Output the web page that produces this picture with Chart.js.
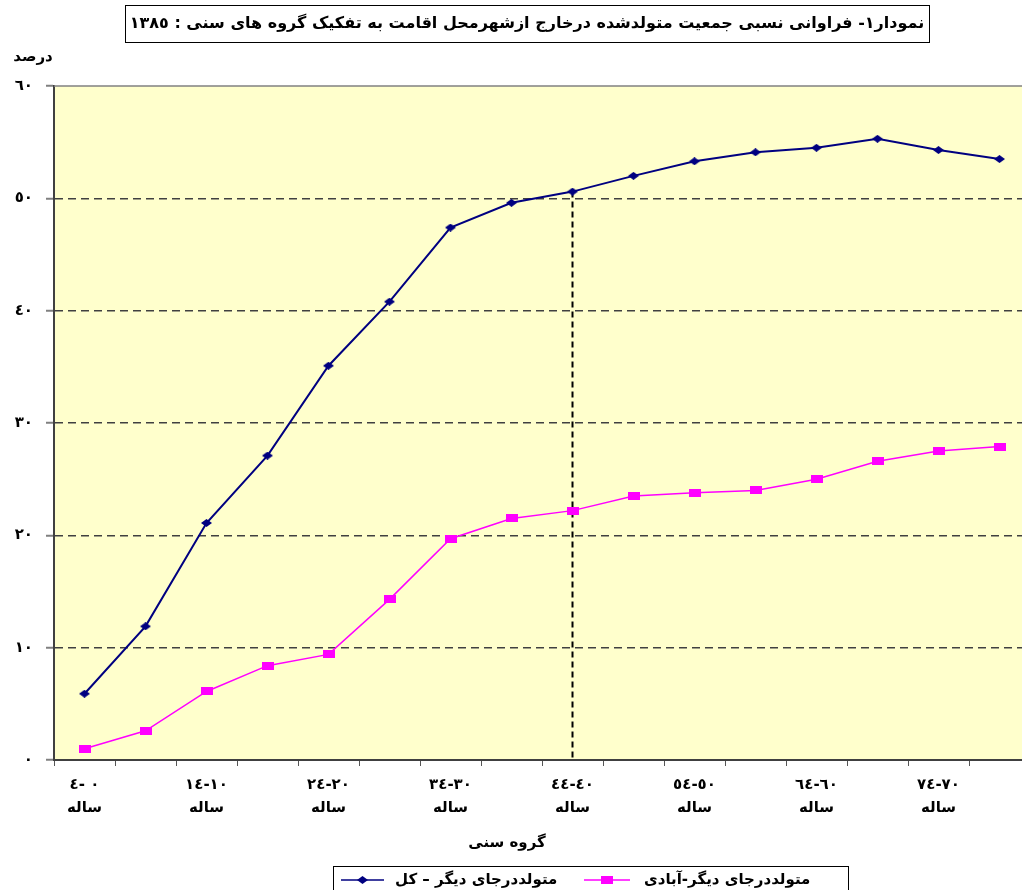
<!DOCTYPE html>
<html lang="fa">
<head>
<meta charset="utf-8">
<title>نمودار ١</title>
<script src="https://cdn.jsdelivr.net/npm/chart.js@4.4.1/dist/chart.umd.min.js"></script>
<style>
  html, body { margin: 0; padding: 0; background: #fff; overflow: hidden; }
  #wrap { width: 1040px; height: 890px; }
</style>
</head>
<body>
<div id="wrap"><canvas id="myChart" width="1040" height="890"></canvas></div>
<script>
// گروه های سنی (ترتیب منطقی، نمایش راست به چپ)
const ageGroups = ["٠ -٤", "٥-٩", "١٠-١٤", "١٥-١٩", "٢٠-٢٤", "٢٥-٢٩", "٣٠-٣٤", "٣٥-٣٩",
  "٤٠-٤٤", "٤٥-٤٩", "٥٠-٥٤", "٥٥-٥٩", "٦٠-٦٤", "٦٥-٦٩", "٧٠-٧٤", "٧٥+"];
const ageSuffix = "ساله";

// درصد متولدین جای دیگر
const totalValues = [5.9, 11.9, 21.1, 27.1, 35.1, 40.8, 47.4, 49.6, 50.6, 52.0, 53.3, 54.1, 54.5, 55.3, 54.3, 53.5];
const urbanValues = [1.0, 2.6, 6.1, 8.4, 9.4, 14.3, 19.7, 21.5, 22.2, 23.5, 23.8, 24.0, 25.0, 26.6, 27.5, 27.9];

const yTickLabels = ["٠", "١٠", "٢٠", "٣٠", "٤٠", "٥٠", "٦٠"];
const seriesNames = ["متولددرجای دیگر – کل", "متولددرجای دیگر-آبادی"];
const chartTitle = "نمودار١- فراوانی نسبی جمعیت متولدشده درخارج ازشهرمحل اقامت به تفکیک گروه های سنی : ١٣٨٥";
const yAxisTitle = "درصد";
const xAxisTitle = "گروه سنی";
const markerIndex = 8; // خط عمودی روی ٤٠-٤٤

const FONT = '"DejaVu Sans", sans-serif';
const NAVY = "#000080";
const MAGENTA = "#FF00FF";

// نشانگرها (لوزی پهن و مستطیل)
function makeMarker(w, h, color, diamond) {
  const c = document.createElement("canvas");
  c.width = w;
  c.height = h;
  const g = c.getContext("2d");
  g.fillStyle = color;
  if (diamond) {
    g.beginPath();
    g.moveTo(w / 2, 0);
    g.lineTo(w, h / 2);
    g.lineTo(w / 2, h);
    g.lineTo(0, h / 2);
    g.closePath();
    g.fill();
  } else {
    g.fillRect(0, 0, w, h);
  }
  return c;
}
const diamondImg = makeMarker(11, 8, NAVY, true);
const squareImg = makeMarker(12, 8, MAGENTA, false);

const decorPlugin = {
  id: "decor",
  beforeDraw(chart) {
    const { ctx, chartArea: a } = chart;
    ctx.save();
    ctx.fillStyle = "#FFFFCC";
    ctx.fillRect(a.left, a.top, a.right - a.left, a.bottom - a.top);
    ctx.restore();
  },
  beforeDatasetsDraw(chart) {
    const { ctx, chartArea: a, scales } = chart;
    ctx.save();
    // خط بالای ناحیه نمودار
    ctx.strokeStyle = "#808080";
    ctx.lineWidth = 1.5;
    ctx.beginPath();
    ctx.moveTo(a.left, a.top);
    ctx.lineTo(a.right, a.top);
    ctx.stroke();
    // خط چین عمودی
    const x = scales.x.getPixelForValue(markerIndex);
    ctx.strokeStyle = "#000";
    ctx.lineWidth = 2;
    ctx.setLineDash([6, 4]);
    ctx.beginPath();
    ctx.moveTo(x, scales.y.getPixelForValue(totalValues[markerIndex]));
    ctx.lineTo(x, scales.y.getPixelForValue(0));
    ctx.stroke();
    ctx.restore();
  },
  afterDraw(chart) {
    const ctx = chart.ctx;
    ctx.save();
    ctx.fillStyle = "#000";
    ctx.textBaseline = "middle";
    ctx.textAlign = "center";

    // عنوان در کادر
    ctx.font = "bold 16px " + FONT;
    const tw = ctx.measureText(chartTitle).width;
    const cx = 527;
    ctx.strokeStyle = "#000";
    ctx.lineWidth = 1;
    ctx.strokeRect(Math.round(cx - tw / 2 - 5) + 0.5, 5.5, Math.round(tw + 10), 37);
    ctx.direction = "rtl";
    ctx.fillText(chartTitle, cx, 24);
    ctx.direction = "ltr";

    // عنوان محورها
    ctx.font = "bold 15px " + FONT;
    ctx.fillText(yAxisTitle, 33, 57);
    ctx.fillText(xAxisTitle, 507, 843);

    // راهنما
    ctx.font = "bold 15px " + FONT;
    const ly = 880;
    const items = [
      { name: seriesNames[0], color: NAVY, img: diamondImg, x0: 341, x1: 384, tx: 395 },
      { name: seriesNames[1], color: MAGENTA, img: squareImg, x0: 584, x1: 630, tx: 644 },
    ];
    items.forEach((it) => {
      ctx.strokeStyle = it.color;
      ctx.lineWidth = 1.5;
      ctx.beginPath();
      ctx.moveTo(it.x0, ly);
      ctx.lineTo(it.x1, ly);
      ctx.stroke();
      ctx.drawImage(it.img, (it.x0 + it.x1) / 2 - it.img.width / 2, ly - it.img.height / 2);
      ctx.textAlign = "left";
      ctx.fillText(it.name, it.tx, ly);
    });
    ctx.strokeStyle = "#000";
    ctx.lineWidth = 1;
    ctx.strokeRect(333.5, 866.5, 515, 30);
    ctx.restore();
  },
};

const ctx = document.getElementById("myChart");

new Chart(ctx, {
  type: "line",
  data: {
    labels: ageGroups,
    datasets: [
      {
        label: seriesNames[0],
        data: totalValues,
        borderColor: NAVY,
        backgroundColor: NAVY,
        borderWidth: 2,
        pointStyle: diamondImg,
        pointRadius: 5,
        tension: 0,
      },
      {
        label: seriesNames[1],
        data: urbanValues,
        borderColor: MAGENTA,
        backgroundColor: MAGENTA,
        borderWidth: 1.5,
        pointStyle: squareImg,
        pointRadius: 5,
        tension: 0,
      },
    ],
  },
  options: {
    responsive: false,
    animation: false,
    layout: { padding: { top: 86, left: 0, right: 10, bottom: 0 } },
    scales: {
      x: {
        offset: true,
        afterFit: (s) => { s.height = 130; },
        grid: {
          offset: true,
          drawOnChartArea: false,
          tickLength: 6,
          tickColor: "#555",
        },
        border: { color: "#404040", width: 2 },
        ticks: {
          autoSkip: false,
          maxRotation: 0,
          padding: 7,
          color: "#000",
          font: { family: FONT, size: 15, weight: "bold", lineHeight: 1.55 },
          callback: (v, i) => (i % 2 === 0 ? [ageGroups[i], ageSuffix] : ""),
        },
      },
      y: {
        min: 0,
        max: 60,
        afterFit: (s) => { s.width = 54; },
        grid: {
          color: (c) => (c.tick && (c.tick.value === 0 || c.tick.value === 60) ? "rgba(0,0,0,0)" : "#404040"),
          lineWidth: 1.5,
          tickLength: 8,
          tickColor: "#808080",
          tickWidth: 2,
        },
        border: { color: "#404040", width: 2, dash: [8, 5] },
        ticks: {
          stepSize: 10,
          padding: 13,
          color: "#000",
          font: { family: FONT, size: 15, weight: "bold" },
          callback: (v, i) => yTickLabels[i],
        },
      },
    },
    plugins: {
      legend: { display: false },
      title: { display: false },
      tooltip: { enabled: true },
    },
  },
  plugins: [decorPlugin],
});
</script>
</body>
</html>
